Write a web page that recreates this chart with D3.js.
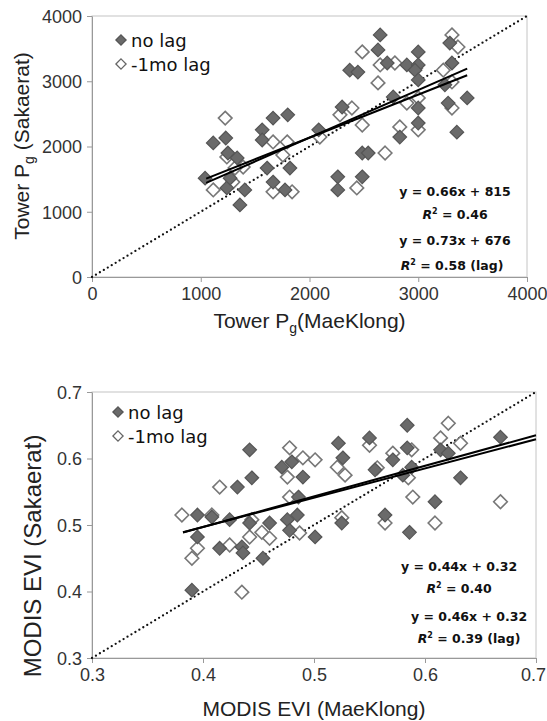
<!DOCTYPE html>
<style>
  body { margin: 0; background: #fff; }
  svg { display: block; }
  .tick text { font-family: "Liberation Sans", Arial, sans-serif; font-size: 18px; fill: #333; }
  .tick line { stroke: #999; }
  .domain { stroke: #999; }
  .title { font-family: "Liberation Sans", Arial, sans-serif; font-size: 21px; fill: #222; }
  .legend { font-family: "DejaVu Sans", Verdana, sans-serif; font-size: 18px; fill: #111; }
  .eq { font-family: "DejaVu Sans", Verdana, sans-serif; font-size: 12.5px; font-weight: bold; fill: #111; }
</style>
<body>
</body>
<script src="https://cdn.jsdelivr.net/npm/d3@7"></script>
<script>
  const W = 547, H = 721;

  // Tower Pg panel: [MaeKlong, Sakaerat]
  const pgNoLag = [
    [1040, 1515], [1115, 2055], [1230, 2130], [1250, 1900], [1335, 1825],
    [1240, 1365], [1405, 1335], [1360, 1105], [1270, 1515], [1565, 2255],
    [1565, 2100], [1665, 2435], [1800, 2485], [1610, 1670], [1665, 1455],
    [1775, 1335], [1820, 1670], [2085, 2255], [2300, 2605], [2260, 1535],
    [2260, 1335], [2485, 1535], [2485, 1900], [2540, 1900], [2370, 3170],
    [2445, 3140], [2650, 3710], [2630, 3480], [2715, 3280], [2770, 2760],
    [2830, 2145], [2895, 3250], [3000, 3450], [3000, 3250], [2970, 3170],
    [3000, 3020], [3000, 2590], [3000, 2360], [3290, 3585], [3310, 3280],
    [3245, 2945], [3275, 2665], [3450, 2745], [3355, 2220]
  ];
  const pgLag = [
    [1225, 2435], [1115, 1335], [1240, 1840], [1390, 1685], [1295, 1455],
    [1665, 2070], [1795, 2070], [1755, 1870], [1665, 1305], [1840, 1305],
    [2095, 2145], [2280, 2485], [2390, 2590], [2485, 2330], [2435, 1365],
    [2695, 1900], [2485, 3450], [2630, 2975], [2650, 3250], [2785, 3280],
    [2830, 2300], [2895, 2665], [3000, 2745], [3000, 2255], [3310, 3710],
    [3365, 3525], [3230, 3170], [3310, 2990], [3310, 2590], [1315, 1670],
    [2975, 3200]
  ];
  const pgFits = [[0.66, 815], [0.73, 676]];
  const pgFitRange = [1050, 3450];
  const pgTicks = [0, 1000, 2000, 3000, 4000];
  const pgEq = ['y = 0.66x + 815', 'R2 = 0.46', 'y = 0.73x + 676', 'R2 = 0.58 (lag)'];

  // MODIS EVI panel: [MaeKlong, Sakaerat]
  const eviNoLag = [
    [0.395, 0.515], [0.395, 0.482], [0.390, 0.402], [0.408, 0.512], [0.415, 0.465],
    [0.424, 0.508], [0.431, 0.557], [0.435, 0.467], [0.436, 0.458], [0.442, 0.613],
    [0.444, 0.571], [0.442, 0.503], [0.454, 0.450], [0.460, 0.503], [0.471, 0.587],
    [0.480, 0.595], [0.490, 0.572], [0.476, 0.508], [0.485, 0.515], [0.486, 0.542],
    [0.478, 0.492], [0.501, 0.482], [0.522, 0.623], [0.526, 0.601], [0.525, 0.503],
    [0.550, 0.631], [0.555, 0.583], [0.564, 0.515], [0.571, 0.598], [0.584, 0.650],
    [0.584, 0.616], [0.588, 0.587], [0.586, 0.489], [0.609, 0.535], [0.614, 0.613],
    [0.621, 0.608], [0.632, 0.571], [0.668, 0.632], [0.580, 0.575]
  ];
  const eviLag = [
    [0.381, 0.515], [0.390, 0.450], [0.395, 0.465], [0.408, 0.515], [0.415, 0.557],
    [0.424, 0.470], [0.435, 0.399], [0.442, 0.482], [0.453, 0.489], [0.460, 0.480],
    [0.478, 0.616], [0.476, 0.572], [0.490, 0.601], [0.501, 0.598], [0.478, 0.542],
    [0.487, 0.488], [0.521, 0.587], [0.528, 0.575], [0.525, 0.511], [0.550, 0.620],
    [0.557, 0.586], [0.564, 0.503], [0.571, 0.608], [0.589, 0.542], [0.588, 0.613],
    [0.585, 0.571], [0.609, 0.503], [0.614, 0.631], [0.621, 0.653], [0.632, 0.623],
    [0.668, 0.535], [0.444, 0.508]
  ];
  // drawn lines (labels are rounded)
  const eviFits = [[0.44, 0.321], [0.46, 0.313]];
  const eviFitRange = [0.382, 0.7];
  const eviTicks = [0.3, 0.4, 0.5, 0.6, 0.7];
  const eviEq = ['y = 0.44x + 0.32', 'R2 = 0.40', 'y = 0.46x + 0.32', 'R2 = 0.39 (lag)'];

  const legendNames = ['no lag', '-1mo lag'];

  const svg = d3.select('body').append('svg')
    .attr('width', W).attr('height', H);

  const diamond = d3.symbol().type(d3.symbolDiamond2).size(118);
  const smallDiamond = d3.symbol().type(d3.symbolDiamond2).size(66);

  function panel(o) {
    const x = d3.scaleLinear().domain(o.domain).range([o.l, o.r]);
    const y = d3.scaleLinear().domain(o.domain).range([o.b, o.t]);
    const g = svg.append('g');

    // plot frame
    g.append('rect')
      .attr('x', o.l).attr('y', o.t)
      .attr('width', o.r - o.l).attr('height', o.b - o.t)
      .attr('fill', 'none').attr('stroke', '#c4c4c4');

    const xa = g.append('g')
      .attr('transform', `translate(0,${o.b})`)
      .call(d3.axisBottom(x).tickValues(o.ticks).tickFormat(o.fmt)
              .tickSize(5).tickSizeOuter(0).tickPadding(5));
    xa.selectAll('.tick:last-of-type text').attr('dx', o.lastDx || 0);
    g.append('g')
      .attr('transform', `translate(${o.l},0)`)
      .call(d3.axisLeft(y).tickValues(o.ticks).tickFormat(o.fmt)
              .tickSize(5).tickSizeOuter(0).tickPadding(5))
      .selectAll('.tick text').attr('dy', '0.36em');

    // 1:1 line
    g.append('line')
      .attr('x1', x(o.domain[0])).attr('y1', y(o.domain[0]))
      .attr('x2', x(o.domain[1])).attr('y2', y(o.domain[1]))
      .attr('stroke', '#111').attr('stroke-width', 2.3)
      .attr('stroke-linecap', 'round').attr('stroke-dasharray', '0,4.6');

    // points, lagged first
    g.append('g').selectAll('path')
      .data(o.lag).join('path')
      .attr('transform', d => `translate(${x(d[0])},${y(d[1])})`)
      .attr('d', diamond)
      .attr('fill', '#fff').attr('stroke', '#777').attr('stroke-width', 1.6);
    g.append('g').selectAll('path')
      .data(o.noLag).join('path')
      .attr('transform', d => `translate(${x(d[0])},${y(d[1])})`)
      .attr('d', diamond)
      .attr('fill', '#6a6a6a').attr('stroke', '#555').attr('stroke-width', 1.2);

    // fit lines
    g.append('g').selectAll('line')
      .data(o.fits).join('line')
      .attr('x1', x(o.fitRange[0])).attr('y1', d => y(d[0] * o.fitRange[0] + d[1]))
      .attr('x2', x(o.fitRange[1])).attr('y2', d => y(d[0] * o.fitRange[1] + d[1]))
      .attr('stroke', '#000').attr('stroke-width', 2);

    // legend
    const lg = g.append('g');
    legendNames.forEach((name, i) => {
      const ly = o.legend[1] + i * 24;
      lg.append('path')
        .attr('transform', `translate(${o.legend[0]},${ly})`)
        .attr('d', smallDiamond)
        .attr('fill', i ? '#fff' : '#6a6a6a')
        .attr('stroke', i ? '#666' : '#555').attr('stroke-width', 1.3);
      lg.append('text').attr('class', 'legend')
        .attr('x', o.legend[0] + 10).attr('y', ly + 6.5)
        .text(name);
    });

    // equations
    o.eq.forEach((s, i) => {
      const t = g.append('text').attr('class', 'eq')
        .attr('x', o.eqPos[i][0]).attr('y', o.eqPos[i][1])
        .attr('text-anchor', 'middle');
      if (s.startsWith('R2')) {
        t.append('tspan').attr('font-style', 'italic').text('R');
        t.append('tspan').attr('font-size', '8px').attr('dy', -5).text('2');
        t.append('tspan').attr('dy', 5).text(s.slice(2));
      } else {
        t.text(s);
      }
    });

    // axis titles
    const xt = g.append('text').attr('class', 'title')
      .attr('x', (o.l + o.r) / 2).attr('y', o.xTitleY)
      .attr('text-anchor', 'middle');
    o.xTitle(xt);
    const yt = g.append('text').attr('class', 'title')
      .attr('transform', `translate(${o.yTitle[0]},${o.yTitle[1]}) rotate(-90)`)
      .attr('text-anchor', 'middle')
      .style('font-size', o.yTitle[2] + 'px');
    o.yTitle[3](yt);
  }

  function towerTitle(site, gap) {
    return t => {
      t.append('tspan').text('Tower P');
      t.append('tspan').attr('font-size', '14px').attr('dy', 5).text('g');
      t.append('tspan').attr('dy', -5).text(gap + '(' + site + ')');
    };
  }

  panel({
    l: 92, r: 527, t: 16, b: 277,
    domain: [0, 4000], ticks: pgTicks, fmt: d3.format('d'),
    noLag: pgNoLag, lag: pgLag, fits: pgFits, fitRange: pgFitRange,
    legend: [121, 40], eq: pgEq,
    eqPos: [[455, 196], [455, 219], [455, 245], [452, 270]],
    xTitleY: 328,
    xTitle: towerTitle('MaeKlong', ''),
    yTitle: [29, 146, 21, towerTitle('Sakaerat', ' ')]
  });

  panel({
    l: 92, r: 536, t: 392, b: 658,
    domain: [0.3, 0.7], ticks: eviTicks, fmt: d3.format('.1f'),
    noLag: eviNoLag, lag: eviLag, fits: eviFits, fitRange: eviFitRange,
    legend: [118, 412], eq: eviEq, lastDx: -3,
    eqPos: [[459, 571], [459, 593], [469, 621], [469, 643]],
    xTitleY: 716,
    xTitle: t => t.text('MODIS EVI (MaeKlong)'),
    yTitle: [41, 556, 24, t => t.text('MODIS EVI (Sakaerat)')]
  });
</script>
